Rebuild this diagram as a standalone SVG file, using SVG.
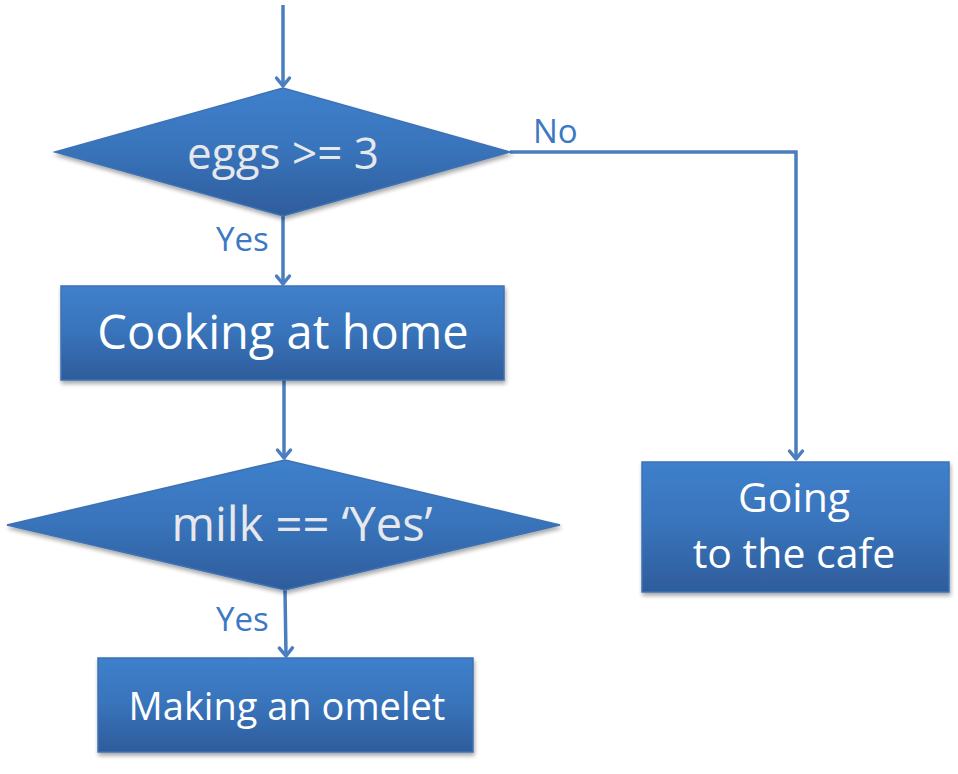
<svg xmlns="http://www.w3.org/2000/svg" width="958" height="774" viewBox="0 0 958 774">
<style>
.shape{fill:url(#g);stroke:#3E72B4;stroke-width:1.5;filter:url(#sh)}
.t{font-family:"Open Sans","Liberation Sans",sans-serif;fill:#FFFFFF;text-anchor:middle}
.td{font-family:"Open Sans","Liberation Sans",sans-serif;fill:#E6E8EC;text-anchor:middle}
.lbl{font-family:"Open Sans","Liberation Sans",sans-serif;fill:#3C78C3;font-size:33px}
.c{fill:none;stroke:#4A7EBF;stroke-width:3.5}
</style>
<defs>
<linearGradient id="g" x1="0" y1="0" x2="0" y2="1">
<stop offset="0" stop-color="#3F80CC"/>
<stop offset="0.5" stop-color="#3873BA"/>
<stop offset="1" stop-color="#2E5C9B"/>
</linearGradient>
<filter id="sh" x="-10%" y="-10%" width="120%" height="130%">
<feGaussianBlur in="SourceAlpha" stdDeviation="2"/>
<feOffset dx="1" dy="3" result="o"/>
<feComponentTransfer><feFuncA type="linear" slope="0.35"/></feComponentTransfer>
<feMerge><feMergeNode/><feMergeNode in="SourceGraphic"/></feMerge>
</filter>
<marker id="a" viewBox="0 0 16 16" refX="13" refY="8" markerWidth="16" markerHeight="16" markerUnits="userSpaceOnUse" orient="auto" overflow="visible">
<path d="M5 1.5 L13 8 L5 14.5" fill="none" stroke="#4A7EBF" stroke-width="3.5" stroke-linecap="round" stroke-linejoin="round"/>
</marker>
</defs>
<g id="connectors">
<path class="c" d="M283 5 V86" marker-end="url(#a)"/>
<path class="c" d="M283 216 V284" marker-end="url(#a)"/>
<path class="c" d="M284 380 V458" marker-end="url(#a)"/>
<path class="c" d="M285 590 L286 656" marker-end="url(#a)"/>
<path class="c" d="M510 152 H796 V459" marker-end="url(#a)"/>
<text class="lbl" x="216" y="251">Yes</text>
<text class="lbl" x="216" y="631">Yes</text>
<text class="lbl" x="533" y="143">No</text>
</g>
<g id="n1">
<polygon class="shape" points="55,152 283,88 510,152 283,216"/>
<text class="td" x="283" y="169" font-size="44">eggs &gt;= 3</text>
</g>
<g id="n2">
<rect class="shape" x="61" y="286" width="443" height="94"/>
<text class="t" x="283" y="349" font-size="47">Cooking at home</text>
</g>
<g id="n3">
<polygon class="shape" points="7,525 285,460 560,525 285,590"/>
<text class="td" x="302" y="541" font-size="47">milk == ‘Yes’</text>
</g>
<g id="n4">
<rect class="shape" x="98" y="658" width="375" height="94"/>
<text class="t" x="287" y="720" font-size="38">Making an omelet</text>
</g>
<g id="n5">
<rect class="shape" x="642" y="462" width="307" height="130"/>
<text class="t" x="794" y="512" font-size="41">Going</text>
<text class="t" x="794" y="568" font-size="41">to the cafe</text>
</g>
</svg>
